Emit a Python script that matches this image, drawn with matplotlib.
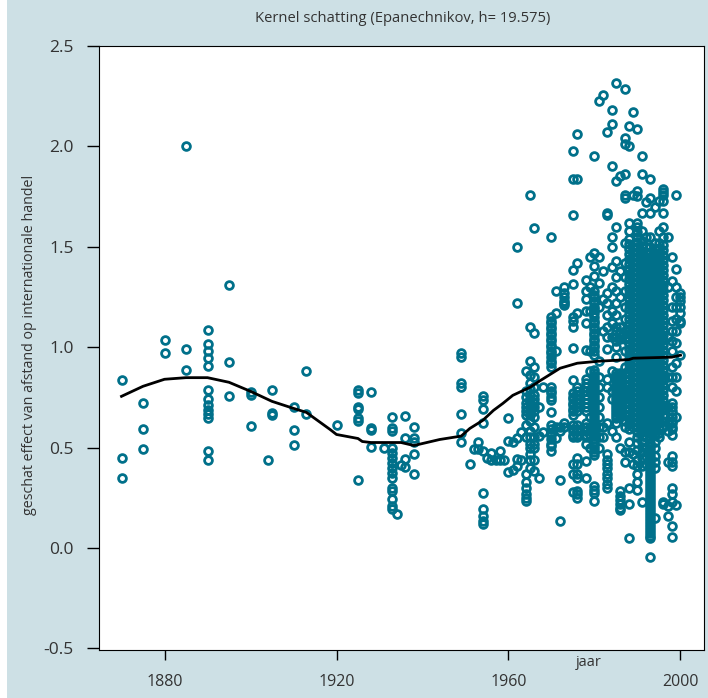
import matplotlib
matplotlib.use('Agg')
import matplotlib.pyplot as plt
from matplotlib.patches import Rectangle

plt.rcParams['font.family'] = ['Open Sans', 'DejaVu Sans']

# schattingen per jaar
p1870 = [0.835, 0.45, 0.35]
p1875 = [0.72, 0.59, 0.495]
p1880 = [1.035, 0.97]
p1885 = [2.0, 0.99, 0.885]
p1890 = [1.085, 1.015, 0.98, 0.945, 0.905, 0.785, 0.74, 0.71, 0.685, 0.665, 0.645, 0.485, 0.44]
p1895 = [1.31, 0.925, 0.755]
p1900 = [0.775, 0.76, 0.605]
p1904 = [0.44]
p1905 = [0.785, 0.67, 0.66]
p1910 = [0.70, 0.585, 0.515]
p1913 = [0.88, 0.665]
p1920 = [0.61]
p1925 = [0.785, 0.77, 0.70, 0.69, 0.645, 0.63, 0.34]
p1928 = [0.775, 0.595, 0.585, 0.505]
p1931 = [0.50]
p1933 = [0.65, 0.595, 0.58, 0.50, 0.475, 0.45, 0.425, 0.40, 0.375, 0.35, 0.30, 0.285, 0.245, 0.21, 0.195]
p1934 = [0.17]
p1935 = [0.415]
p1936 = [0.655, 0.545, 0.445, 0.405]
p1938 = [0.60, 0.545, 0.53, 0.47, 0.37]
p1949 = [0.97, 0.95, 0.82, 0.80, 0.665, 0.57, 0.53]
p1951 = [0.42]
p1952 = [0.495]
p1953 = [0.53, 0.495]
p1954 = [0.755, 0.735, 0.69, 0.62, 0.485, 0.275, 0.195, 0.16, 0.135, 0.12]
p1955 = [0.45]
p1956 = [0.475, 0.44]
p1957 = [0.44]
p1958 = [0.485, 0.44]
p1959 = [0.44]
p1960 = [0.645, 0.535, 0.38]
p1961 = [0.53, 0.39]
p1962 = [1.50, 1.22, 0.545, 0.445, 0.41]
p1963 = [0.575, 0.44]
p1964 = [0.88, 0.78, 0.75, 0.72, 0.70, 0.68, 0.66, 0.61, 0.55, 0.37, 0.33, 0.30, 0.27, 0.25, 0.235]
p1965 = [1.76, 1.10, 0.93, 0.86, 0.82, 0.79, 0.76, 0.74, 0.72, 0.69, 0.67, 0.66, 0.63, 0.58, 0.55, 0.52, 0.50, 0.47, 0.44, 0.40]
p1966 = [1.595, 1.07, 0.90, 0.85, 0.80, 0.76, 0.74, 0.72, 0.70, 0.68, 0.65, 0.60, 0.55, 0.52, 0.50, 0.44, 0.385]
p1967 = [0.70, 0.555, 0.35]
p1968 = [0.575, 0.80]
p1970 = [1.55, 1.15, 1.13, 1.12, 1.10, 1.09, 1.07, 1.06, 1.04, 1.03, 1.01, 1.00, 0.98, 0.97, 0.95, 0.93, 0.92, 0.90,
         0.80, 0.78, 0.77, 0.75, 0.735, 0.675, 0.61, 0.59, 0.57, 0.56, 0.54, 0.52, 0.51, 0.485]
p1971 = [1.28, 1.17, 0.98, 0.545, 0.60]
p1972 = [0.58, 0.60, 0.34, 0.135]
p1973 = [1.30, 1.27, 1.25, 1.23, 1.22, 1.21, 0.60, 0.62]
p1975 = [1.975, 1.84, 1.66, 1.385, 1.315, 1.15, 1.13, 1.10, 0.995, 0.835, 0.77, 0.75, 0.74, 0.72, 0.71, 0.69, 0.68, 0.66,
         0.61, 0.59, 0.58, 0.56, 0.55, 0.42, 0.37, 0.28]
p1976 = [2.06, 1.84, 1.42, 1.17, 0.80, 0.78, 0.76, 0.74, 0.72, 0.70, 0.68, 0.61, 0.59, 0.58, 0.56, 0.55, 0.45, 0.42,
         0.37, 0.35, 0.285, 0.27, 0.25]
p1978 = [1.335, 1.28, 1.24, 1.18, 1.12, 0.985, 0.84, 0.82, 0.80, 0.78, 0.76, 0.74, 0.72, 0.70, 0.68, 0.62, 0.60, 0.58,
         0.56, 0.55, 0.52, 0.435, 0.35]
p1979 = [1.45, 1.30, 1.18, 0.98, 0.88, 0.78, 0.65, 0.60, 0.56, 0.50]
p1980 = [1.95, 1.47, 1.405, 1.355, 1.28, 1.26, 1.25, 1.23, 1.22, 1.20, 1.19, 1.17, 1.15, 1.13, 1.12, 1.10, 1.09, 1.07,
         1.06, 1.04, 1.03, 1.01, 1.00, 0.98, 0.96, 0.885, 0.87, 0.855, 0.84, 0.825, 0.81, 0.795, 0.78, 0.765, 0.75,
         0.735, 0.72, 0.705, 0.69, 0.675, 0.66, 0.645, 0.63, 0.615, 0.60, 0.585, 0.57, 0.555, 0.54, 0.525, 0.51,
         0.495, 0.48, 0.465, 0.31, 0.29, 0.275, 0.235]
p1981 = [2.225, 1.45, 1.32, 1.20, 0.93, 0.85, 0.80, 0.75, 0.70, 0.65, 0.60, 0.55, 0.50]
p1982 = [2.257, 1.38, 1.24, 1.08, 0.60, 0.55]
p1983 = [2.07, 1.67, 1.66, 1.27, 1.22, 1.16, 1.10, 1.05, 0.99, 0.84, 0.80, 0.62, 0.47, 0.44, 0.42, 0.40, 0.37, 0.35,
         0.32, 0.30]
p1984 = [2.18, 2.11, 1.90, 1.55, 1.50, 1.40, 1.30, 1.18, 1.12, 1.05, 0.88, 0.78, 0.74, 0.58]
p1985 = [2.318, 1.83, 1.60, 1.43, 1.35, 1.28, 1.22, 1.16, 1.10, 1.08, 1.05, 1.03, 1.00, 0.95, 0.87, 0.855, 0.84, 0.825,
         0.81, 0.795, 0.78, 0.765, 0.75, 0.735, 0.72, 0.705, 0.69, 0.675, 0.66, 0.645, 0.62, 0.55]
p1986 = [1.85, 1.38, 1.25, 1.10, 1.07, 1.04, 0.87, 0.85, 0.83, 0.81, 0.79, 0.77, 0.75, 0.73, 0.71, 0.69, 0.67, 0.65,
         0.50, 0.285, 0.26, 0.24, 0.22, 0.20, 0.19]
p1987 = [2.285, 2.04, 2.01, 1.86, 1.76, 1.745, 1.52, 1.42, 1.35, 1.28, 1.20, 1.14, 1.08, 1.04, 0.98, 0.90, 0.87, 0.84,
         0.81, 0.78, 0.75, 0.72, 0.69, 0.66, 0.63, 0.60, 0.48, 0.43]
p1988 = [2.10, 2.0, 1.62, 1.58, 1.54, 1.515, 1.49, 1.465, 1.44, 1.415, 1.39, 1.365, 1.34, 1.315, 1.29, 1.265, 1.24,
         1.215, 1.19, 1.165, 1.14, 1.115, 1.09, 1.065, 1.04, 1.015, 0.99, 0.965, 0.94, 0.915, 0.89, 0.865, 0.84,
         0.815, 0.79, 0.765, 0.74, 0.715, 0.69, 0.665, 0.64, 0.615, 0.59, 0.53, 0.48, 0.30, 0.22, 0.05]
p1989 = [2.17, 1.76, 1.50, 1.475, 1.45, 1.425, 1.40, 1.375, 1.35, 1.325, 1.30, 1.275, 1.25, 1.225, 1.20, 1.175, 1.15,
         1.125, 1.10, 1.075, 1.05, 1.025, 1.00, 0.975, 0.95, 0.925, 0.90, 0.875, 0.85, 0.825, 0.80, 0.775, 0.75,
         0.725, 0.70, 0.675, 0.65, 0.625, 0.60, 0.47, 0.42]
p1990 = [2.087, 1.78, 1.755, 1.62, 1.60, 1.575, 1.55, 1.525, 1.50, 1.475, 1.45, 1.425, 1.40, 1.375, 1.35, 1.325, 1.30,
         1.275, 1.25, 1.225, 1.20, 1.175, 1.15, 1.125, 1.10, 1.075, 1.05, 1.025, 1.00, 0.975, 0.95, 0.925, 0.90,
         0.875, 0.85, 0.825, 0.80, 0.775, 0.75, 0.725, 0.70, 0.675, 0.65, 0.625, 0.60, 0.575, 0.55, 0.525, 0.49,
         0.44, 0.41, 0.37, 0.33, 0.29]
p1991 = [1.95, 1.86, 1.67, 1.58, 1.53, 1.505, 1.48, 1.455, 1.43, 1.405, 1.38, 1.355, 1.33, 1.305, 1.28, 1.255, 1.23,
         1.205, 1.18, 1.155, 1.13, 1.105, 1.08, 1.055, 1.03, 1.005, 0.98, 0.955, 0.93, 0.905, 0.88, 0.855, 0.83,
         0.805, 0.78, 0.755, 0.73, 0.705, 0.68, 0.655, 0.63, 0.605, 0.58, 0.555, 0.53, 0.505, 0.48, 0.45, 0.41, 0.23]
p1992 = [1.725, 1.55, 1.50, 1.475, 1.45, 1.425, 1.40, 1.375, 1.35, 1.325, 1.30, 1.275, 1.25, 1.225, 1.20, 1.175, 1.15,
         1.125, 1.10, 1.075, 1.05, 1.025, 1.00, 0.975, 0.95, 0.925, 0.90, 0.875, 0.85, 0.825, 0.80, 0.775, 0.75,
         0.725, 0.70, 0.675, 0.65, 0.625, 0.60, 0.575, 0.55, 0.50, 0.46, 0.42]
p1993 = [1.84, 1.745, 1.67, 1.55, 1.50, 1.47, 1.445, 1.42, 1.395, 1.37, 1.345, 1.32, 1.295, 1.27, 1.245, 1.22, 1.195,
         1.17, 1.145, 1.12, 1.095, 1.07, 1.045, 1.02, 0.995, 0.97, 0.945, 0.92, 0.895, 0.87, 0.845, 0.82, 0.795,
         0.77, 0.745, 0.72, 0.695, 0.67, 0.645, 0.62, 0.60, 0.585, 0.57, 0.555, 0.54, 0.525, 0.51, 0.495, 0.48,
         0.465, 0.45, 0.435, 0.42, 0.405, 0.39, 0.375, 0.36, 0.345, 0.33, 0.315, 0.30, 0.285, 0.27, 0.255, 0.24,
         0.225, 0.21, 0.195, 0.18, 0.165, 0.15, 0.135, 0.12, 0.105, 0.09, 0.075, 0.06, 0.05, -0.045]
p1994 = [1.70, 1.52, 1.49, 1.465, 1.44, 1.415, 1.39, 1.365, 1.34, 1.315, 1.29, 1.265, 1.24, 1.215, 1.19, 1.165, 1.14,
         1.115, 1.09, 1.065, 1.04, 1.015, 0.99, 0.965, 0.94, 0.915, 0.89, 0.865, 0.84, 0.815, 0.79, 0.765, 0.74,
         0.715, 0.69, 0.665, 0.64, 0.615, 0.59, 0.56, 0.53, 0.50, 0.46, 0.43, 0.40, 0.15]
p1995 = [1.73, 1.58, 1.52, 1.495, 1.47, 1.445, 1.42, 1.395, 1.37, 1.345, 1.32, 1.295, 1.27, 1.245, 1.22, 1.195, 1.17,
         1.145, 1.12, 1.095, 1.07, 1.045, 1.02, 0.995, 0.97, 0.945, 0.92, 0.895, 0.87, 0.845, 0.82, 0.795, 0.77,
         0.745, 0.72, 0.695, 0.67, 0.645, 0.62, 0.595, 0.57, 0.55]
p1996 = [1.79, 1.775, 1.76, 1.73, 1.67, 1.60, 1.55, 1.51, 1.485, 1.46, 1.435, 1.41, 1.385, 1.36, 1.335, 1.31, 1.285,
         1.26, 1.235, 1.21, 1.185, 1.16, 1.135, 1.11, 1.085, 1.06, 1.035, 1.01, 0.985, 0.96, 0.935, 0.91, 0.885,
         0.86, 0.835, 0.81, 0.785, 0.76, 0.735, 0.71, 0.685, 0.66, 0.63, 0.60, 0.23, 0.22]
p1997 = [1.55, 1.30, 1.05, 0.85, 0.70, 0.62, 0.58, 0.43, 0.21, 0.16]
p1998 = [1.45, 1.33, 1.20, 1.13, 1.08, 1.03, 0.98, 0.90, 0.85, 0.80, 0.72, 0.70, 0.68, 0.65, 0.63, 0.62, 0.60, 0.59, 0.56,
         0.46, 0.43, 0.41, 0.30, 0.27, 0.23, 0.11, 0.055]
p1999 = [1.76, 1.39, 1.30, 1.25, 1.20, 1.14, 1.08, 1.02, 0.92, 0.85, 0.78, 0.65, 0.215]
p2000 = [1.27, 1.25, 1.23, 1.20, 1.17, 1.13, 1.12, 0.96]

jaren = [1870, 1875, 1880, 1885, 1890, 1895, 1900, 1904, 1905, 1910, 1913, 1920, 1925, 1928, 1931, 1933,
         1934, 1935, 1936, 1938, 1949, 1951, 1952, 1953, 1954, 1955, 1956, 1957, 1958, 1959, 1960,
         1961, 1962, 1963, 1964, 1965, 1966, 1967, 1968, 1970, 1971, 1972, 1973, 1975, 1976, 1978, 1979,
         1980, 1981, 1982, 1983, 1984, 1985, 1986, 1987, 1988, 1989, 1990, 1991, 1992, 1993, 1994, 1995,
         1996, 1997, 1998, 1999, 2000]
punten = [p1870, p1875, p1880, p1885, p1890, p1895, p1900, p1904, p1905, p1910, p1913, p1920, p1925, p1928,
          p1931, p1933, p1934, p1935, p1936, p1938, p1949, p1951, p1952, p1953, p1954, p1955, p1956,
          p1957, p1958, p1959, p1960, p1961, p1962, p1963, p1964, p1965, p1966, p1967, p1968, p1970,
          p1971, p1972, p1973, p1975, p1976, p1978, p1979, p1980, p1981, p1982, p1983, p1984, p1985, p1986,
          p1987, p1988, p1989, p1990, p1991, p1992, p1993, p1994, p1995, p1996, p1997, p1998, p1999, p2000]

# kernel schatting
lijn_x = [1870, 1875, 1880, 1885, 1890, 1895, 1900, 1905, 1910, 1913, 1918.5, 1920, 1925, 1926, 1928, 1933, 1935,
          1938, 1944, 1949, 1951, 1954, 1956.5, 1958.7, 1961, 1965, 1967.5, 1972, 1976, 1981, 1988, 1989, 1998, 2000]
lijn_y = [0.755, 0.805, 0.84, 0.848, 0.848, 0.825, 0.78, 0.73, 0.695, 0.675, 0.59, 0.565, 0.545, 0.53, 0.525, 0.525,
          0.525, 0.51, 0.54, 0.557, 0.595, 0.635, 0.685, 0.72, 0.76, 0.80, 0.835, 0.895, 0.92, 0.93, 0.938, 0.945, 0.95, 0.96]

x_ticks = [1880, 1920, 1960, 2000]
y_ticks = [-0.5, 0.0, 0.5, 1.0, 1.5, 2.0, 2.5]

W, H = 708, 698
fig = plt.figure(figsize=(W / 100, H / 100), dpi=100, facecolor='#cde0e5')
fig.patches.append(Rectangle((0, 0), 7 / W, 1, transform=fig.transFigure, facecolor='white', edgecolor='none'))
ax = fig.add_axes([98.5 / W, 1 - 649.5 / H, 605 / W, 603.5 / H])

for jaar, waarden in zip(jaren, punten):
    ax.plot([jaar] * len(waarden), waarden, 'o', ms=5.6, mfc='none', mec='#00708a', mew=2)
ax.plot(lijn_x, lijn_y, color='black', lw=2)

ax.set_xlim(1864.65, 2005.35)
ax.set_ylim(-0.506, 2.5)
ax.set_xticks(x_ticks)
ax.set_yticks(y_ticks)
ax.set_yticklabels(['%.1f' % v for v in y_ticks])
ax.tick_params(axis='x', length=7, width=1, labelsize=11.5, pad=11, labelcolor='#333333')
ax.tick_params(axis='y', length=9, width=1, labelsize=12.5, pad=9, labelcolor='#333333')

fig.text(403 / W, 1 - 19 / H, 'Kernel schatting (Epanechnikov, h= 19.575)', ha='center', va='center',
         fontsize=10.6, color='#333333')
fig.text(30 / W, 1 - 345 / H, 'geschat effect van afstand op internationale handel', rotation=90,
         ha='center', va='center', fontsize=10.3, color='#333333')
fig.text(589 / W, 1 - 663 / H, 'jaar', ha='center', va='center', fontsize=10.5, color='#333333')

fig.savefig('out.png', dpi=100, facecolor=fig.get_facecolor())
